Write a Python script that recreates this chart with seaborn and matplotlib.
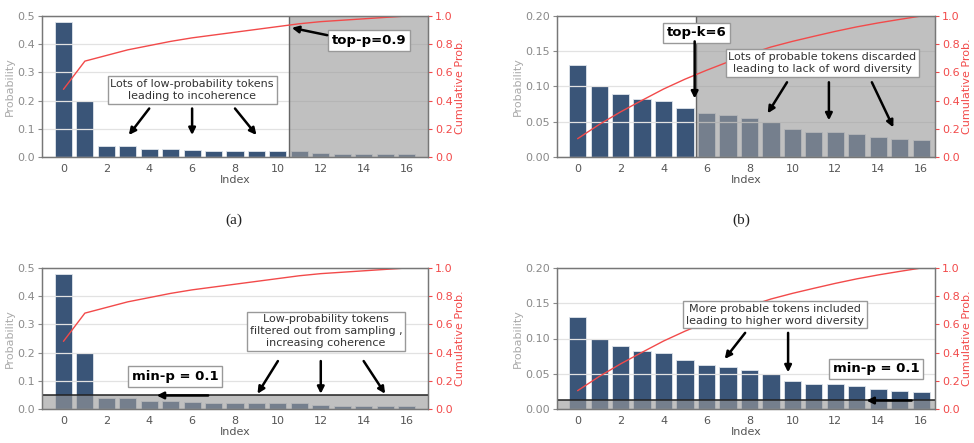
import matplotlib
matplotlib.use('Agg')
import matplotlib.pyplot as plt
import seaborn as sns

sns.set_style("white")
plt.rcParams['font.family'] = ['DejaVu Sans']

# data
idx = list(range(17))
probs_peaked = [0.48, 0.20, 0.04, 0.04, 0.03, 0.03, 0.025, 0.02, 0.02, 0.02,
                0.02, 0.02, 0.015, 0.01, 0.01, 0.01, 0.01]
cum_peaked = [0.48, 0.68, 0.72, 0.76, 0.79, 0.82, 0.845, 0.865, 0.885, 0.905,
              0.925, 0.945, 0.96, 0.97, 0.98, 0.99, 1.0]
probs_flat = [0.13, 0.10, 0.09, 0.082, 0.08, 0.07, 0.063, 0.059, 0.056, 0.05,
              0.04, 0.036, 0.035, 0.032, 0.028, 0.025, 0.024]
cum_flat = [0.13, 0.23, 0.32, 0.402, 0.482, 0.552, 0.615, 0.674, 0.73, 0.78,
            0.82, 0.856, 0.891, 0.923, 0.951, 0.976, 1.0]
xtick_vals = [0, 2, 4, 6, 8, 10, 12, 14, 16]
top_p_cut = 10.5
top_k_cut = 5.5
minp_peaked = 0.048
minp_flat = 0.013

BAR = '#3a5578'
RED = '#f24a4a'
GREY_TXT = '#8a8a8a'
SPINE = '#777777'
SHADE = '#9a9a9a'
FS = 8

fig = plt.figure(figsize=(9.74, 4.43), dpi=100)


def draw_panel(rect, probs, cum, ymax, yticks, yfmt, xlim):
    ax = fig.add_axes(rect)
    sns.barplot(x=idx, y=probs, color=BAR, saturation=1, edgecolor='#dfe5ec',
                linewidth=0.6, width=0.8, ax=ax)
    ax.set_xlim(*xlim)
    ax.set_ylim(0, ymax)
    ax.set_yticks(yticks)
    ax.set_yticklabels([yfmt.format(v) for v in yticks])
    ax.set_xticks(xtick_vals)
    ax.set_xticklabels([str(v) for v in xtick_vals])
    ax.grid(axis='y', color='#e2e2e2', lw=0.9)
    ax.set_axisbelow('line')
    ax.tick_params(axis='both', labelsize=FS, colors=GREY_TXT, length=3, width=0.8,
                   pad=2)
    ax.tick_params(axis='x', labelcolor='#555555')
    ax.set_xlabel('Index', fontsize=FS, color='#555555', labelpad=1)
    ax.set_ylabel('Probability', fontsize=FS, color='#aaaaaa', labelpad=2)

    ax2 = ax.twinx()
    sns.lineplot(x=idx, y=cum, color=RED, lw=1.0, ax=ax2)
    ax2.set_ylim(0, 1.0)
    ax2.set_yticks([0, 0.2, 0.4, 0.6, 0.8, 1.0])
    ax2.set_yticklabels(['0.0', '0.2', '0.4', '0.6', '0.8', '1.0'])
    ax2.tick_params(axis='y', labelsize=FS, colors=RED, length=3, width=0.8, pad=2)
    ax2.set_ylabel('Cumulative Prob.', fontsize=FS, color=RED, labelpad=2)
    ax2.grid(False)
    for a in (ax, ax2):
        for s in a.spines.values():
            s.set_color(SPINE)
            s.set_linewidth(0.9)
    return ax, ax2


def note(ax, ax2, x, y, text, bold=False):
    if bold:
        ax2.text(x, y, text, transform=ax.transData, ha='center', va='center',
                 fontsize=9.5, fontweight='bold', color='black', zorder=6,
                 bbox=dict(boxstyle='square,pad=0.28', fc='white', ec='#999999', lw=1))
    else:
        ax2.text(x, y, text, transform=ax.transData, ha='center', va='center',
                 fontsize=FS, color='#333333', linespacing=1.25, zorder=6,
                 bbox=dict(boxstyle='square,pad=0.25', fc='white', ec='#999999', lw=1))


def arrow(ax, ax2, start, end):
    ax2.annotate('', xy=end, xytext=start, xycoords=ax.transData,
                 textcoords=ax.transData,
                 arrowprops=dict(arrowstyle='-|>', color='black', lw=1.8,
                                 mutation_scale=10, shrinkA=0, shrinkB=0),
                 zorder=7)


W_L, W_R = 386 / 974, 378 / 974
H = 141 / 443
B_TOP, B_BOT = (443 - 157) / 443, (443 - 409) / 443
X_L, X_R = 42 / 974, 557 / 974

# (a) top-p
ax, ax2 = draw_panel([X_L, B_TOP, W_L, H], probs_peaked, cum_peaked, 0.5,
                     [0, 0.1, 0.2, 0.3, 0.4, 0.5], '{:.1f}', (-1.0, 17.0))
ax.axvspan(top_p_cut, 17.0, color=SHADE, alpha=0.62, lw=0, zorder=2)
ax.axvline(top_p_cut, color='#666666', lw=1, zorder=2.6)
note(ax, ax2, 6.0, 0.238, 'Lots of low-probability tokens\nleading to incoherence')
arrow(ax, ax2, (4.0, 0.172), (3.05, 0.078))
arrow(ax, ax2, (6.0, 0.172), (6.0, 0.078))
arrow(ax, ax2, (8.0, 0.172), (9.0, 0.078))
note(ax, ax2, 14.25, 0.413, 'top-p=0.9', bold=True)
arrow(ax, ax2, (12.3, 0.432), (10.65, 0.458))

# (b) top-k
ax, ax2 = draw_panel([X_R, B_TOP, W_R, H], probs_flat, cum_flat, 0.20,
                     [0, 0.05, 0.10, 0.15, 0.20], '{:.2f}', (-0.96, 16.64))
ax.axvspan(top_k_cut, 16.64, color=SHADE, alpha=0.62, lw=0, zorder=2)
ax.axvline(top_k_cut, color='#666666', lw=1, zorder=2.6)
note(ax, ax2, 5.55, 0.176, 'top-k=6', bold=True)
arrow(ax, ax2, (5.45, 0.164), (5.45, 0.083))
note(ax, ax2, 11.4, 0.133, 'Lots of probable tokens discarded\nleading to lack of word diversity')
arrow(ax, ax2, (9.75, 0.106), (8.85, 0.062))
arrow(ax, ax2, (11.7, 0.106), (11.7, 0.052))
arrow(ax, ax2, (13.7, 0.106), (14.7, 0.042))

# min-p on peaked distribution
ax, ax2 = draw_panel([X_L, B_BOT, W_L, H], probs_peaked, cum_peaked, 0.5,
                     [0, 0.1, 0.2, 0.3, 0.4, 0.5], '{:.1f}', (-1.0, 17.0))
ax.axhspan(0, minp_peaked, color=SHADE, alpha=0.62, lw=0, zorder=2)
ax.axhline(minp_peaked, color='#222222', lw=1.1, zorder=2.6)
note(ax, ax2, 12.25, 0.275, 'Low-probability tokens\nfiltered out from sampling ,\nincreasing coherence')
arrow(ax, ax2, (10.0, 0.170), (9.05, 0.054))
arrow(ax, ax2, (12.0, 0.170), (12.0, 0.054))
arrow(ax, ax2, (14.0, 0.170), (15.0, 0.054))
note(ax, ax2, 5.2, 0.115, 'min-p = 0.1', bold=True)
arrow(ax, ax2, (6.75, 0.048), (4.35, 0.048))

# min-p on flat distribution
ax, ax2 = draw_panel([X_R, B_BOT, W_R, H], probs_flat, cum_flat, 0.20,
                     [0, 0.05, 0.10, 0.15, 0.20], '{:.2f}', (-0.96, 16.64))
ax.axhspan(0, minp_flat, color=SHADE, alpha=0.62, lw=0, zorder=2)
ax.axhline(minp_flat, color='#222222', lw=1.1, zorder=2.6)
note(ax, ax2, 9.2, 0.134, 'More probable tokens included\nleading to higher word diversity')
arrow(ax, ax2, (7.8, 0.108), (6.85, 0.071))
arrow(ax, ax2, (9.8, 0.108), (9.8, 0.052))
note(ax, ax2, 13.9, 0.057, 'min-p = 0.1', bold=True)
arrow(ax, ax2, (15.55, 0.012), (13.45, 0.012))

# captions
fig.text(234 / 974, 1 - 220 / 443, '(a)', ha='center', va='center', fontsize=11,
         family=['Liberation Serif', 'DejaVu Serif'], color='#222222')
fig.text(741 / 974, 1 - 220 / 443, '(b)', ha='center', va='center', fontsize=11,
         family=['Liberation Serif', 'DejaVu Serif'], color='#222222')

fig.savefig('out.png', dpi=100)
